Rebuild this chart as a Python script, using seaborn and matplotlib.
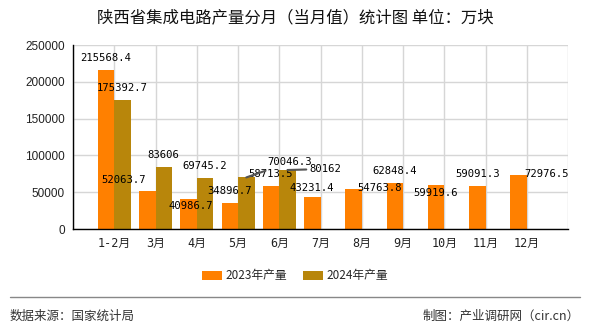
import numpy as np
import pandas as pd
import matplotlib
matplotlib.use("Agg")
import matplotlib.pyplot as plt
from matplotlib.patches import Patch
from matplotlib.lines import Line2D
import seaborn as sns

months = ["1-2月", "3月", "4月", "5月", "6月", "7月", "8月", "9月", "10月", "11月", "12月"]
v2023 = [215568.4, 52063.7, 40986.7, 34896.7, 58713.5, 43231.4, 54763.8, 62848.4, 59919.6, 59091.3, 72976.5]
v2024 = [175392.7, 83606, 69745.2, 70046.3, 80162]
series = ["2023年产量", "2024年产量"]
yticks = [0, 50000, 100000, 150000, 200000, 250000]

title = "陕西省集成电路产量分月（当月值）统计图 单位：万块"
source = "数据来源：国家统计局"
maker = "制图：产业调研网（cir.cn）"

rows = []
for m, v in zip(months, v2023):
    rows.append({"月份": m, "产量": v, "系列": series[0]})
for m, v in zip(months, v2024):
    rows.append({"月份": m, "产量": v, "系列": series[1]})
df = pd.DataFrame(rows)

sns.set_style("white")
CJK = ["Noto Sans CJK SC", "DejaVu Sans"]
plt.rcParams["font.family"] = ["Liberation Sans", "Noto Sans CJK SC"]

colors = ["#FF8000", "#B8860B"]

fig = plt.figure(figsize=(5.9, 3.3), dpi=100)
ax = fig.add_axes([73 / 590, 101 / 330, 495 / 590, 184 / 330])

sns.barplot(data=df, x="月份", y="产量", hue="系列", hue_order=series, order=months,
            palette=colors, width=0.8, saturation=1, ax=ax, legend=False, zorder=3,
            linewidth=0)

ax.set_xlim(-1, len(months))
ax.set_ylim(0, 250000)
ax.set_yticks(yticks)
ax.set_yticklabels([str(t) for t in yticks], fontsize=8.5, color="#222222")
ax.set_xticks(range(-1, len(months) + 1))
ax.set_xticklabels([""] + months + [""], fontsize=8.5,
                   family=["DejaVu Sans Mono", "Noto Sans CJK SC"], color="#222222")
ax.tick_params(axis="both", length=4, width=1, color="black", pad=2)
ax.set_xlabel("")
ax.set_ylabel("")
ax.grid(True, color="#d6d6d6", lw=1, zorder=0)
ax.set_axisbelow(True)
for s in ["top", "right"]:
    ax.spines[s].set_visible(False)
for s in ["left", "bottom"]:
    ax.spines[s].set_color("black")
    ax.spines[s].set_linewidth(1)
    ax.spines[s].set_zorder(5)


def fmt(v):
    return str(int(v)) if float(v).is_integer() else f"{v:.1f}"


# label offsets in pixels (dx, dy) relative to bar top centre
offsets = {
    (0, 1): (-24, 11), (0, 2): (2, -7), (0, 5): (0, 9), (0, 6): (26, 1),
    (0, 8): (0, -8), (0, 10): (28, 1),
    (1, 3): (43, 15), (1, 4): (38, 1),
}
lined = {(1, 3), (1, 4)}
for si, cont in enumerate(ax.containers):
    vals = v2023 if si == 0 else v2024
    for bi, (bar, val) in enumerate(zip(cont, vals)):
        x = bar.get_x() + bar.get_width() / 2
        y = bar.get_height()
        dx, dy = offsets.get((si, bi), (0, 12))
        kw = {}
        if (si, bi) in lined:
            kw["arrowprops"] = dict(arrowstyle="-", color="#555555", lw=1.5,
                                    shrinkA=0, shrinkB=0)
        ax.annotate(fmt(val), xy=(x, y), xytext=(dx, dy), textcoords="offset pixels",
                    ha="center", va="center", fontsize=7.6, family="DejaVu Sans Mono",
                    color="black", zorder=6, **kw)

fig.text(0.5, 1 - 18 / 330, title, ha="center", va="center", fontsize=11.8,
         family=CJK, color="#111111")

handles = [Patch(facecolor=c, edgecolor="none") for c in colors]
fig.legend(handles, series, loc="center", bbox_to_anchor=(0.5, 1 - 276 / 330),
           ncol=2, frameon=False, handlelength=1.7, handleheight=0.8,
           handletextpad=0.35, columnspacing=1.3, prop={"family": CJK, "size": 8.5})

fig.add_artist(Line2D([10 / 590, 580 / 590], [1 - 297 / 330, 1 - 297 / 330],
                      transform=fig.transFigure, color="#888888", lw=1))
fig.text(10 / 590, 1 - 316 / 330, source, ha="left", va="center", fontsize=9,
         family=CJK, color="#333333")
fig.text(580 / 590, 1 - 316 / 330, maker, ha="right", va="center", fontsize=9,
         family=CJK, color="#333333")

fig.savefig("out.png", dpi=100)
